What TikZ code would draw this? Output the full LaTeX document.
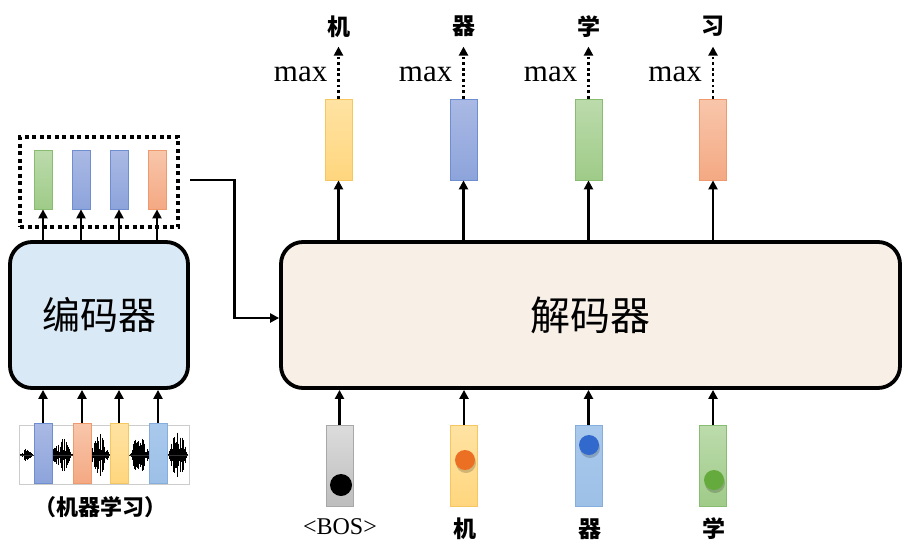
\documentclass[tikz,border=0pt]{standalone}
\usepackage{fontspec}
\setmainfont{Liberation Serif}
\newfontfamily\cjk{Noto Sans CJK SC}
\usetikzlibrary{arrows.meta}
\definecolor{yT}{HTML}{FFE3A3}\definecolor{yB}{HTML}{FFD67E}\definecolor{yD}{HTML}{F6C760}
\definecolor{bT}{HTML}{AAB9E4}\definecolor{bB}{HTML}{8DA4DB}\definecolor{bD}{HTML}{6F8ED0}
\definecolor{gT}{HTML}{BCDBAC}\definecolor{gB}{HTML}{9FCB88}\definecolor{gD}{HTML}{88BC70}
\definecolor{oT}{HTML}{F8C6AB}\definecolor{oB}{HTML}{F4A983}\definecolor{oD}{HTML}{EE9A6C}
\definecolor{sT}{HTML}{DCDCDC}\definecolor{sB}{HTML}{BDBDBD}\definecolor{sD}{HTML}{A8A8A8}
\definecolor{lT}{HTML}{A9C9EC}\definecolor{lB}{HTML}{9DC0E7}\definecolor{lD}{HTML}{86AEDD}
\definecolor{encfill}{HTML}{DAE9F6}
\definecolor{decfill}{HTML}{F8F0E7}
\begin{document}
\begin{tikzpicture}[x=1pt,y=-1pt,
  arr/.style={line width=2.8pt,-{Triangle[length=9pt,width=9pt]}},
  darr/.style={line width=2.8pt,dash pattern=on 2.8pt off 2.8pt,-{Triangle[length=9pt,width=9pt]}},
  bigbox/.style={draw,line width=3.8pt,rounded corners=22pt,minimum height=146pt,inner sep=0pt},
  bar/.style={draw,line width=0.8pt,inner sep=0pt,minimum width=27pt,minimum height=81pt},
  sbar/.style={draw,line width=0.8pt,inner sep=0pt,minimum width=18pt,minimum height=59pt},
  cy/.style={top color=yT,bottom color=yB,draw=yD},
  cb/.style={top color=bT,bottom color=bB,draw=bD},
  cg/.style={top color=gT,bottom color=gB,draw=gD},
  co/.style={top color=oT,bottom color=oB,draw=oD},
  cs/.style={top color=sT,bottom color=sB,draw=sD},
  cl/.style={top color=lT,bottom color=lB,draw=lD},
  zh/.style={font=\cjk\fontsize{23}{26}\selectfont\bfseries},
  mx/.style={font=\fontsize{31}{34}\selectfont,anchor=base east,inner sep=0pt},
  dot/.style={circle,inner sep=0pt,minimum size=20pt}
]
\useasboundingbox (0,0) rectangle (909,549);

% ---------- encoder ----------
\node[bigbox,fill=encfill,minimum width=178pt] (enc) at (99,315)
  {\cjk\fontsize{38}{40}\selectfont 编码器};

\node[draw,line width=4pt,dash pattern=on 4pt off 3.5pt,minimum width=158pt,minimum height=90pt,inner sep=0pt] (dbox) at (99,182) {};
\node[sbar,cg] (e1) at (43,179.5) {};
\node[sbar,cb] (e2) at (81,179.5) {};
\node[sbar,cb] (e3) at (119,179.5) {};
\node[sbar,co] (e4) at (157,179.5) {};
\foreach \i in {1,...,4}{\draw[arr] (e\i.south |- enc.north) -- (e\i.south);}

% waveform
\node[draw=black!20,line width=0.6pt,minimum width=170pt,minimum height=59pt,inner sep=0pt] (wave) at (104,454.5) {};
\pgfmathsetseed{7}
\foreach \x in {20,20.8,...,188}{
  \pgfmathsetmacro\env{1.5+5*max(0,1-((\x-27)/6)^2)+15*max(0,1-((\x-62)/10)^2)+23*max(0,1-((\x-100)/9)^2)+20*max(0,1-((\x-140)/10)^2)+24*max(0,1-((\x-178)/9)^2)}
  \pgfmathsetmacro\a{\env*(0.15+0.85*rnd)}
  \draw[line width=0.7pt] (\x,455-\a) -- (\x,455+\a);
}
\node[draw=black!70,line width=0.5pt,minimum width=168pt,minimum height=0pt,inner sep=0pt] at (104,455) {};
\node[sbar,cb,minimum height=60pt] (w1) at (43,453) {};
\node[sbar,co,minimum height=60pt] (w2) at (82,453) {};
\node[sbar,cy,minimum height=60pt] (w3) at (119,453) {};
\node[sbar,cl,minimum height=60pt] (w4) at (158,453) {};
\foreach \i in {1,...,4}{\draw[arr] (w\i.north) -- (w\i.north |- enc.south);}
\node[font=\cjk\fontsize{22}{24}\selectfont\bfseries] (wlab) at (100,507) {（机器学习）};

% ---------- decoder ----------
\node[bigbox,fill=decfill,minimum width=619pt] (dec) at (590.5,315)
  {\cjk\fontsize{40}{42}\selectfont 解码器};

\draw[arr] ([xshift=10pt,yshift=2pt]dbox.east) -| ([xshift=-45pt,yshift=-3pt]dec.west) -- ([yshift=-3pt]dec.west);

% outputs
\node[bar,cy] (o1) at (338.5,139.5) {};
\node[bar,cb] (o2) at (463.5,139.5) {};
\node[bar,cg] (o3) at (588.5,139.5) {};
\node[bar,co] (o4) at (713,139.5) {};
\foreach \i/\c in {1/机,2/器,3/学,4/习}{
  \draw[arr] (o\i.south |- dec.north) -- (o\i.south);
  \coordinate (m\i) at ([yshift=52pt]o\i.north);
  \draw[darr] (o\i.north) -- (m\i);
  \node[zh] (t\i) at ([yshift=20pt]m\i) {\c};
  \node[mx] (x\i) at ([xshift=-11pt,yshift=17pt]o\i.north) {max};
}

% inputs
\node[bar,cs] (i1) at (339.5,466) {};
\node[bar,cy] (i2) at (464,466) {};
\node[bar,cl] (i3) at (588.5,466) {};
\node[bar,cg] (i4) at (713,466) {};
\foreach \i in {1,...,4}{\draw[arr] (i\i.north) -- (i\i.north |- dec.south);}

\fill[black,opacity=0.18] (466,463) circle (10pt);
\fill[black,opacity=0.18] (590,448) circle (10pt);
\fill[black,opacity=0.18] (715,483) circle (10pt);
\node[dot,fill=black,minimum size=22pt] (d1) at (341,485) {};
\node[dot,fill={rgb,255:red,236;green,112;blue,36}] (d2) at (465,460) {};
\node[dot,fill={rgb,255:red,50;green,105;blue,205}] (d3) at (589,445) {};
\node[dot,fill={rgb,255:red,100;green,170;blue,60}] (d4) at (714,480) {};

\node[font=\fontsize{24}{26}\selectfont] (l1) at (340,527) {\textless BOS\textgreater};
\node[zh] (l2) at (465,529) {机};
\node[zh] (l3) at (590,529) {器};
\node[zh] (l4) at (714,529) {学};
\end{tikzpicture}
\end{document}
